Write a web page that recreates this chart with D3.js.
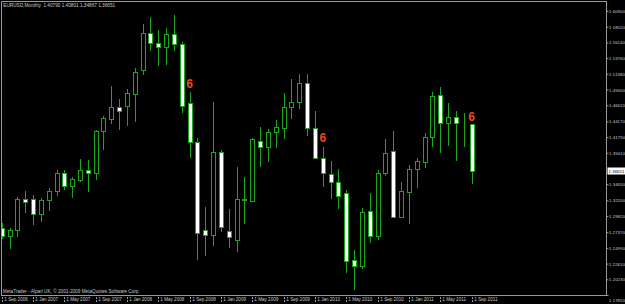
<!DOCTYPE html>
<html><head><meta charset="utf-8">
<script src="https://cdn.jsdelivr.net/npm/d3@7"></script>
<style>html,body{margin:0;padding:0;background:#000;overflow:hidden}svg{display:block}</style>
</head><body>
<svg id="c" width="625" height="304"></svg>
<script>
const dates = ["2006-09","2006-10","2006-11","2006-12",
"2007-01","2007-02","2007-03","2007-04","2007-05","2007-06","2007-07","2007-08","2007-09","2007-10","2007-11","2007-12",
"2008-01","2008-02","2008-03","2008-04","2008-05","2008-06","2008-07","2008-08","2008-09","2008-10","2008-11","2008-12",
"2009-01","2009-02","2009-03","2009-04","2009-05","2009-06","2009-07","2009-08","2009-09","2009-10","2009-11","2009-12",
"2010-01","2010-02","2010-03","2010-04","2010-05","2010-06","2010-07","2010-08","2010-09","2010-10","2010-11","2010-12",
"2011-01","2011-02","2011-03","2011-04","2011-05","2011-06","2011-07","2011-08","2011-09"];
const open = [1.2805,1.2679,1.2766,1.3236,
1.3236,1.3018,1.3225,1.3366,1.3634,1.3442,1.3528,1.3675,1.3630,1.4271,1.4457,1.4639,
1.4655,1.4837,1.5196,1.5752,1.5610,1.5549,1.5741,1.5590,1.4691,1.4100,1.2770,1.2695,
1.3957,1.2751,1.2623,1.3232,1.3215,1.4124,1.4024,1.4260,1.4317,1.4630,1.4715,1.4994,
1.4317,1.3857,1.3619,1.3503,1.3327,1.2311,1.2229,1.3058,1.2684,1.3630,1.3968,1.2972,
1.3342,1.3690,1.3806,1.4176,1.4821,1.4388,1.4483,1.4362,1.4373];
const high = [1.2872,1.2801,1.3275,1.3362,
1.3301,1.3260,1.3403,1.3680,1.3680,1.3569,1.3851,1.3831,1.4286,1.4503,1.4953,1.4761,
1.4903,1.5221,1.5893,1.6004,1.5802,1.5832,1.6029,1.5616,1.4858,1.4160,1.3115,1.4706,
1.3983,1.3089,1.3730,1.3578,1.4160,1.4336,1.4297,1.4438,1.4843,1.5055,1.5135,1.5135,
1.4579,1.4024,1.3816,1.3690,1.3375,1.2467,1.3108,1.3336,1.3680,1.4150,1.4271,1.3503,
1.3756,1.3857,1.4236,1.4867,1.4933,1.4691,1.4574,1.4548,1.4380];
const low = [1.2650,1.2493,1.2680,1.3048,
1.2861,1.2911,1.3074,1.3301,1.3387,1.3266,1.3513,1.3362,1.3544,1.4003,1.4388,1.4306,
1.4357,1.4427,1.5135,1.5499,1.5271,1.5287,1.5499,1.4564,1.3872,1.2331,1.2392,1.2543,
1.2760,1.2517,1.2457,1.2881,1.3210,1.3745,1.3821,1.4033,1.4160,1.4464,1.4615,1.4210,
1.3855,1.3437,1.3260,1.3108,1.2138,1.1876,1.2190,1.2593,1.2634,1.3604,1.2968,1.2965,
1.2872,1.3427,1.3730,1.4048,1.3957,1.4059,1.3832,1.4044,1.34867];
const close = [1.2679,1.2766,1.3236,1.3195,
1.3018,1.3225,1.3362,1.3634,1.3442,1.3539,1.3680,1.3630,1.4271,1.4468,1.4630,1.4574,
1.4843,1.5170,1.5752,1.5600,1.5540,1.5741,1.5585,1.4654,1.4109,1.2720,1.2690,1.3948,
1.2811,1.2669,1.3240,1.3240,1.4145,1.4033,1.4251,1.4327,1.4630,1.4706,1.4994,1.4321,
1.3857,1.3630,1.3503,1.3290,1.2305,1.2229,1.3048,1.2684,1.3630,1.3942,1.2972,1.3362,
1.3695,1.3816,1.4176,1.4802,1.4388,1.4479,1.4388,1.4368,1.36651];
const priceTicks = [1.60900,1.58520,1.56140,1.53760,1.51380,1.49000,1.46620,1.44170,1.41790,1.39410,
1.34650,1.32200,1.29820,1.27370,1.24990,1.22610,1.20230,1.17850];
const dateTicks = ["2006-09","2007-01","2007-05","2007-09","2008-01","2008-05","2008-09","2009-01",
"2009-05","2009-09","2010-01","2010-05","2010-09","2011-01","2011-05","2011-09"];
const dateTickLabels = ["1 Sep 2006","1 Jan 2007","1 May 2007","1 Sep 2007","1 Jan 2008","1 May 2008",
"1 Sep 2008","1 Jan 2009","1 May 2009","1 Sep 2009","1 Jan 2010","1 May 2010","1 Sep 2010",
"1 Jan 2011","1 May 2011","1 Sep 2011"];
const markDates = ["2008-09","2010-02","2011-09"];
const markPrices = [1.4983,1.4169,1.4488];
const markTexts = ["6","6","6"];
const headerText = "EURUSD,Monthly  1.40790 1.40801 1.34867 1.36651";
const footerText = "MetaTrader - Alpari UK, \u00a9 2001-2009 MetaQuotes Software Corp.";
const lastPrice = 1.36651;

const svg = d3.select("#c");
const FONT = "'Liberation Sans', Arial, sans-serif";
const TXT = "#c8c8c8", GREEN = "#1aa51a", FRAME = "#9a9a9a";
svg.append("rect").attr("width",625).attr("height",304).attr("fill","#000");

const x = d3.scalePoint().domain(dates).range([1.7, 471.5]);
const y = d3.scaleLinear().domain([1.1785, 1.609]).range([295, 11]);

const data = dates.map((d,i)=>({d, o:open[i], h:high[i], l:low[i], c:close[i]}));

svg.append("clipPath").attr("id","clip").append("rect")
  .attr("x",2).attr("y",2).attr("width",604).attr("height",293);

const g = svg.append("g").attr("clip-path","url(#clip)");
const cx = d => Math.round(x(d.d));
g.selectAll("line.wick").data(data).join("line")
  .attr("x1",d=>cx(d)+0.5).attr("x2",d=>cx(d)+0.5)
  .attr("y1",d=>Math.round(y(d.h))).attr("y2",d=>Math.round(y(d.l))+1)
  .attr("stroke",GREEN).attr("stroke-width",1);
g.selectAll("rect.body").data(data).join("rect")
  .attr("x",d=>cx(d)-1.5).attr("width",4)
  .attr("y",d=>Math.round(y(Math.max(d.o,d.c)))+0.5)
  .attr("height",d=>Math.max(0, Math.round(y(Math.min(d.o,d.c))) - Math.round(y(Math.max(d.o,d.c)))))
  .attr("fill",d=>d.c>=d.o?"#000":"#fff")
  .attr("stroke",GREEN).attr("stroke-width",1);

// frame
svg.append("rect").attr("x",1.5).attr("y",1.5).attr("width",605).attr("height",294)
  .attr("fill","none").attr("stroke",FRAME).attr("stroke-width",1);

// price axis
const ya = svg.append("g").attr("transform","translate(606.5,0)")
  .call(d3.axisRight(y).tickValues(priceTicks).tickSize(2).tickPadding(0.6).tickFormat(d3.format(".5f")));
ya.select(".domain").remove();
ya.selectAll(".tick line").attr("stroke",FRAME);
ya.selectAll(".tick text").attr("fill",TXT).attr("font-family",FONT).attr("font-size","4.35px")
  .attr("dy",(d)=> d===priceTicks[priceTicks.length-1] ? "1.55em" : "0.35em");

// current price
const ly = Math.round(y(lastPrice));
svg.append("rect").attr("x",607.5).attr("y",ly-3.5).attr("width",17.5).attr("height",7).attr("fill","#fff");
svg.append("text").attr("x",608.6).attr("y",ly).attr("dy","0.35em").attr("fill","#000")
  .attr("font-family",FONT).attr("font-size","4.35px").text(d3.format(".5f")(lastPrice));

// date axis
const xa = svg.append("g").attr("transform","translate(0,296)")
  .call(d3.axisBottom(x).tickValues(dateTicks).tickSize(6).tickFormat((d,i)=>dateTickLabels[i]));
xa.select(".domain").remove();
xa.selectAll(".tick").attr("transform",d=>`translate(${Math.round(x(d))+0.5},0)`);
xa.selectAll(".tick line").attr("stroke",FRAME).attr("stroke-dasharray","2,1").attr("y1",1);
xa.selectAll(".tick text").attr("fill",TXT).attr("font-family",FONT).attr("font-size","4.6px")
  .attr("text-anchor","start").attr("x",1.8).attr("y",3.7).attr("dy","0.35em");

// texts
svg.append("text").attr("x",3.3).attr("y",5).attr("dy","0.35em").attr("fill",TXT)
  .attr("font-family",FONT).attr("font-size","4.7px").style("white-space","pre").text(headerText);
svg.append("text").attr("x",2.8).attr("y",291.3).attr("dy","0.35em").attr("fill",TXT)
  .attr("font-family",FONT).attr("font-size","4.7px").text(footerText);

// marks
svg.selectAll("text.mark").data(markDates).join("text").attr("class","mark")
  .attr("x",(d)=>x(d)).attr("y",(d,i)=>y(markPrices[i])).attr("dy","0.36em")
  .attr("text-anchor","middle").attr("fill","#f04818").attr("font-family",FONT)
  .attr("font-weight","bold").attr("font-size","12px").text((d,i)=>markTexts[i]);
</script>
</body></html>
